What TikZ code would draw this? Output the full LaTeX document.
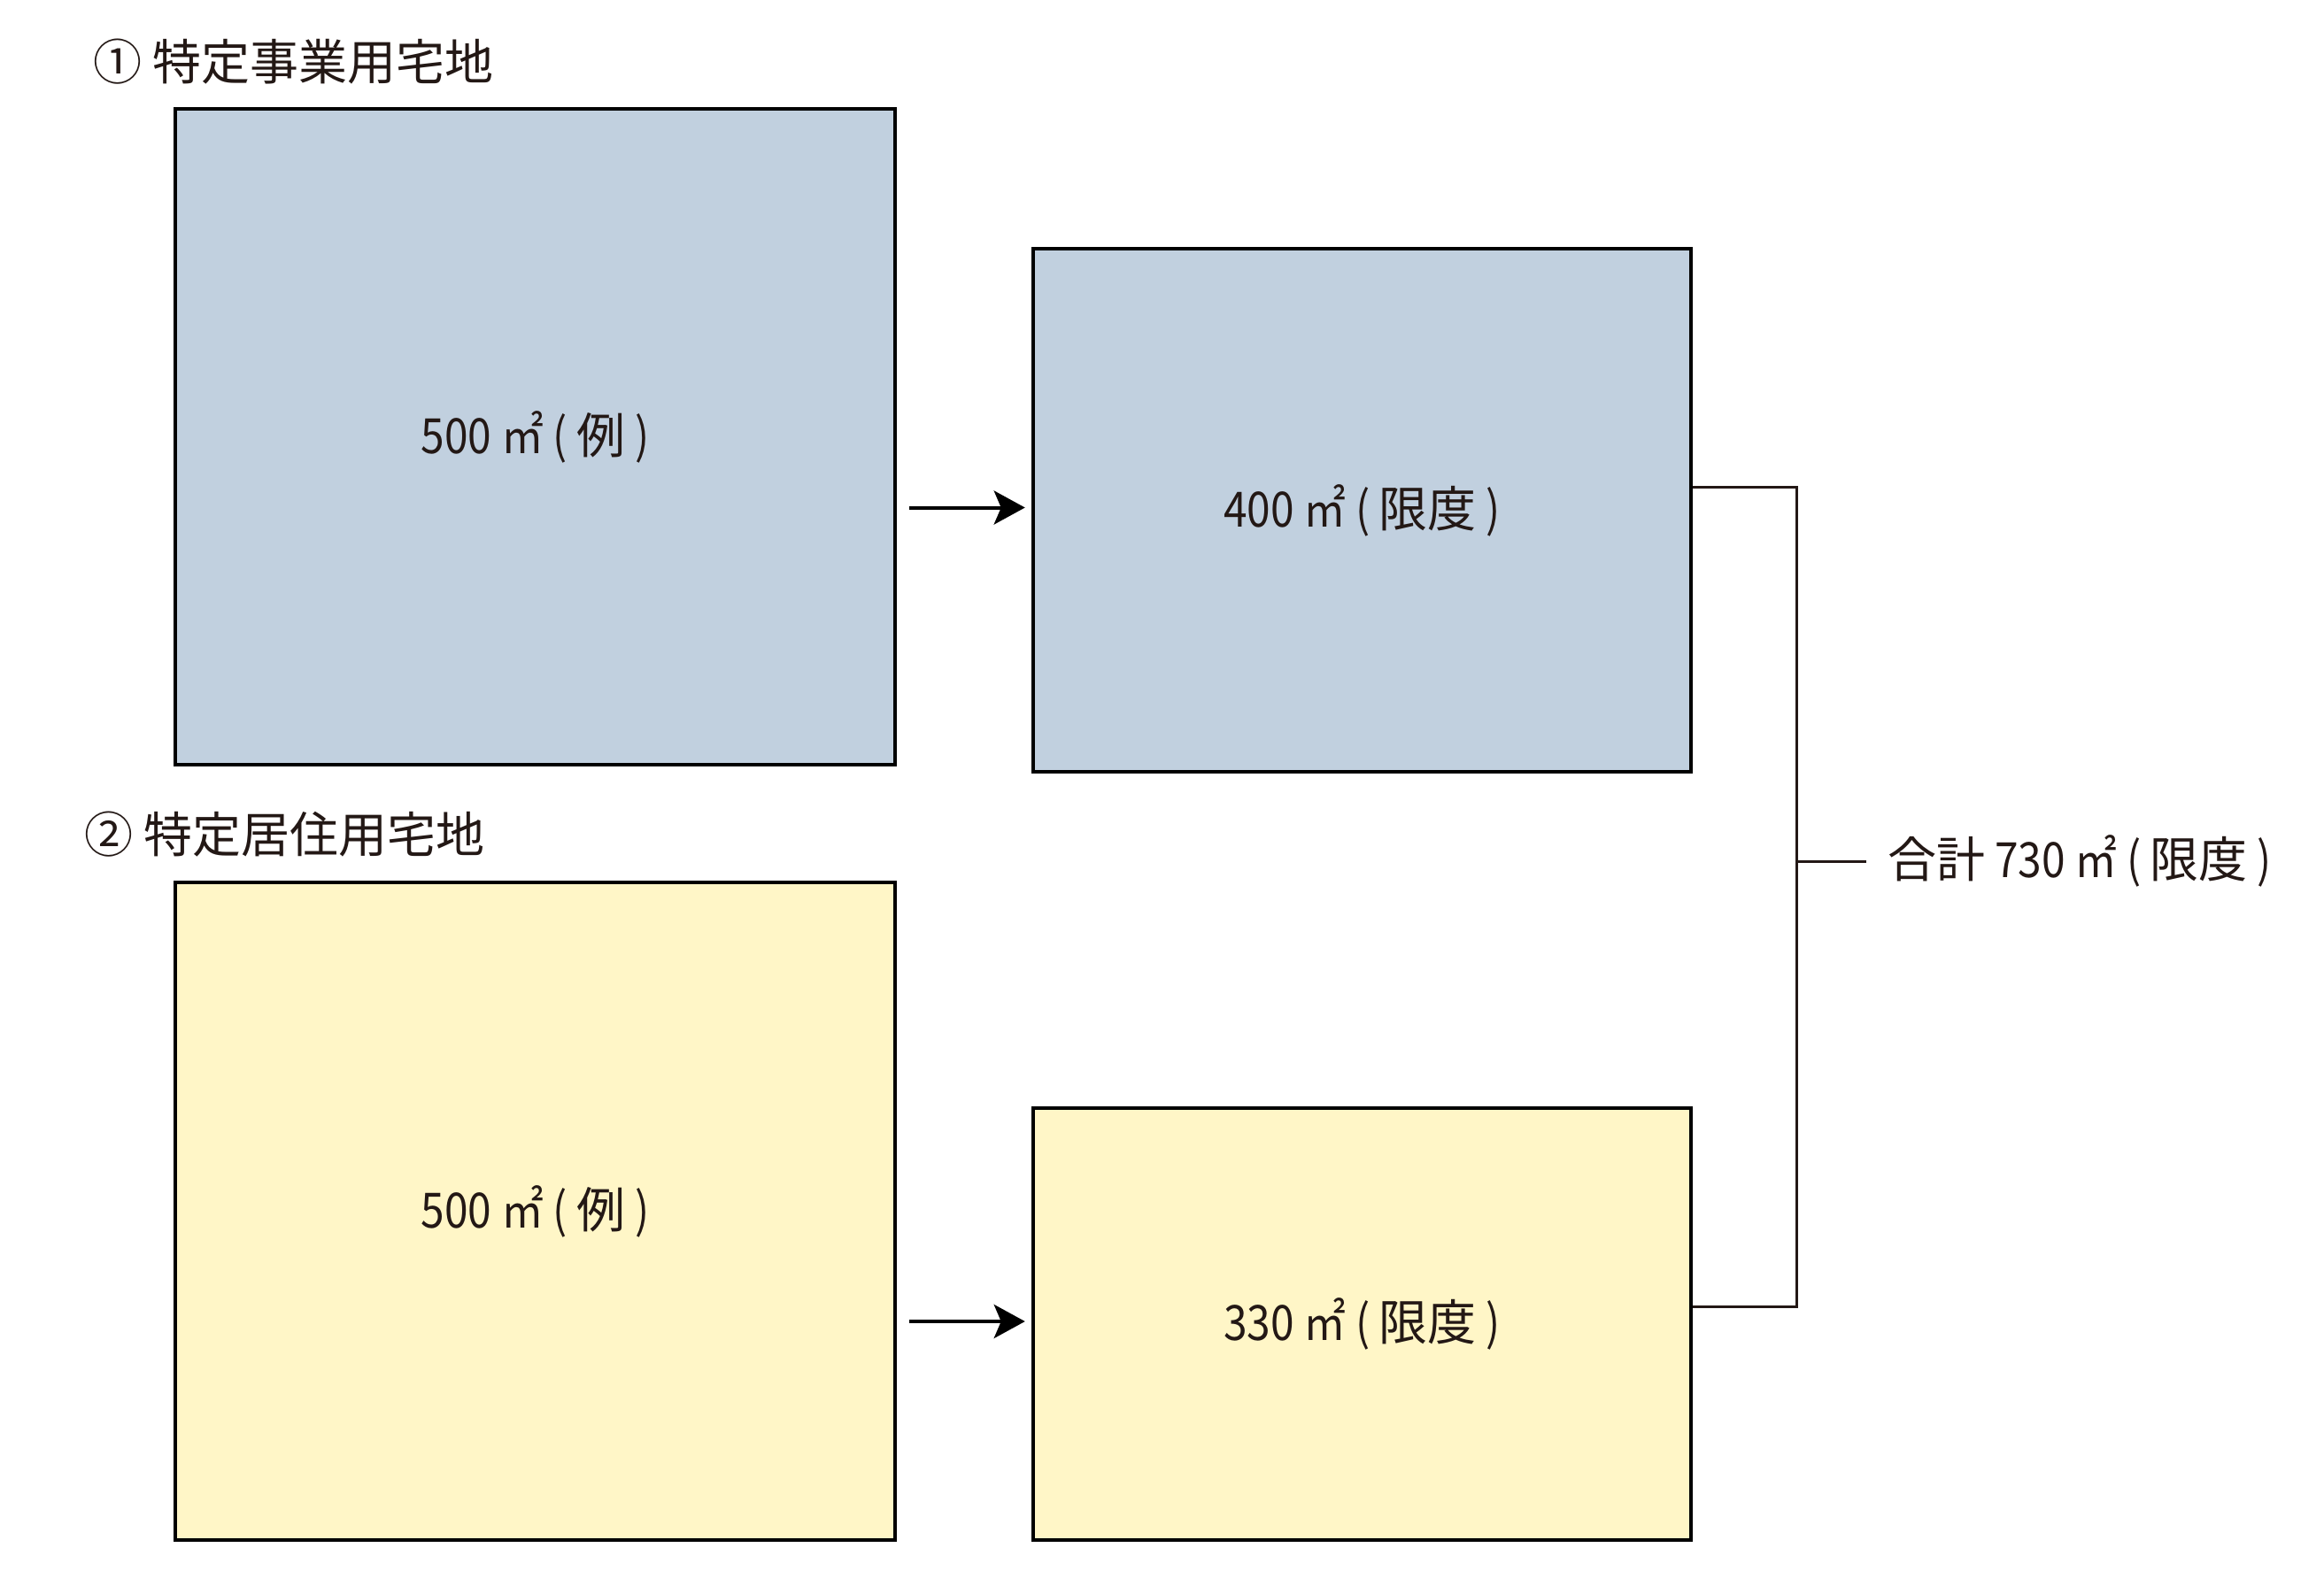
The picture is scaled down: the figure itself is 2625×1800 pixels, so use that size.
\documentclass[tikz,border=0pt]{standalone}
\usepackage{fontspec}
\newfontfamily\jp{Noto Sans CJK JP}
\newfontfamily\jpn[FakeStretch=0.87]{Noto Sans CJK JP}
\usetikzlibrary{arrows.meta,calc}
\definecolor{bluefill}{RGB}{193,208,223}
\definecolor{yellowfill}{RGB}{255,246,199}
\definecolor{inkline}{RGB}{35,24,21}
\tikzset{
  area/.style={draw=black, line width=2.25pt, inner sep=0pt, font=\jp\fontsize{27.5}{33}\selectfont, text=inkline},
  bluebox/.style={area, fill=bluefill},
  yellowbox/.style={area, fill=yellowfill},
  arr/.style={line width=2pt, -{Stealth[length=17.5pt, width=19pt, inset=4pt]}},
  bracket/.style={draw=inkline, line width=1.5pt},
  title/.style={font=\jp\fontsize{27.5}{33}\selectfont, text=inkline, inner sep=0pt, anchor=west},
}
\begin{document}
\begin{tikzpicture}[x=0.5pt, y=-0.5pt]
\useasboundingbox (0,0) rectangle (2625,1800);
\node[title] (t1) at (105,70) {① 特定事業用宅地};
\node[title] (t2) at (95,943) {② 特定居住用宅地};
\node[bluebox, minimum width=406.5pt, minimum height=370.5pt] (b1) at (604.5,493.5) {{\jpn 500 ㎡ ( }例{\jpn\ )}};
\node[bluebox, minimum width=371.5pt, minimum height=295.5pt] (b2) at (1538.5,576.5) {{\jpn 400 ㎡ ( }限度{\jpn\ )}};
\node[yellowbox, minimum width=406.5pt, minimum height=371.5pt] (b3) at (604.5,1368.5) {{\jpn 500 ㎡ ( }例{\jpn\ )}};
\node[yellowbox, minimum width=371.5pt, minimum height=244pt] (b4) at (1538.5,1496) {{\jpn 330 ㎡ ( }限度{\jpn\ )}};
\draw[arr] ($(b1.east |- b2.west)+(14,-3)$) -- ($(b2.west)+(-7,-3)$);
\draw[arr] ($(b3.east |- b4.west)+(14,-3)$) -- ($(b4.west)+(-7,-3)$);
\coordinate (brk) at (2029,973);
\node[title] (tot) at (2132,973) {合計{\jpn\ 730 ㎡ ( }限度{\jpn\ )}};
\draw[bracket] ($(b2.east)+(0,-26)$) -| (brk) |- ($(b4.east)+(0,-20)$);
\draw[bracket] (brk) -- ($(tot.west)+(-24,0)$);
\end{tikzpicture}
\end{document}
